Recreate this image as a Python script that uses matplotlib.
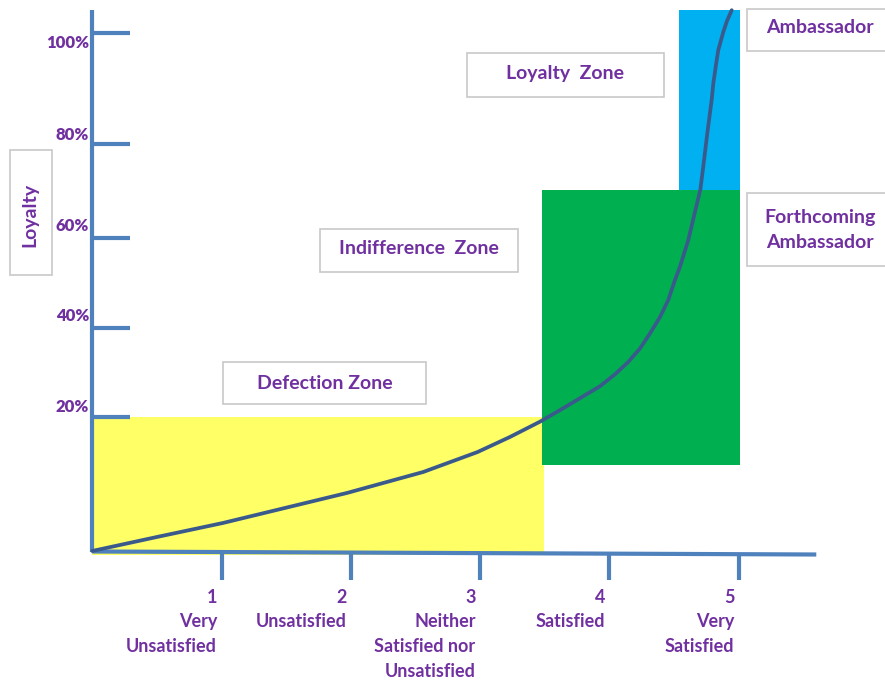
import matplotlib
matplotlib.use("Agg")
import matplotlib.pyplot as plt
from matplotlib.patches import Rectangle

# ---------------- data ----------------
satisfaction_levels = [1, 2, 3, 4, 5]
satisfaction_labels = ["1\nVery\nUnsatisfied", "2\nUnsatisfied",
                       "3\nNeither\nSatisfied nor\nUnsatisfied",
                       "4\nSatisfied", "5\nVery\nSatisfied"]
loyalty_tick_labels = ["20%", "40%", "60%", "80%", "100%"]
loyalty_label_pos = [27.8, 45.4, 62.7, 80.3, 98.1]
loyalty_tick_marks = [25.9, 43.1, 60.4, 78.6, 100.0]

curve_x = [0.0, 0.50, 1.01, 1.49, 1.97, 2.56, 2.98, 3.23, 3.463, 3.618,
           3.773, 3.927, 4.043, 4.146, 4.237, 4.314, 4.392, 4.456, 4.507,
           4.546, 4.610, 4.665, 4.703, 4.726, 4.757, 4.791, 4.804, 4.824,
           4.842, 4.881, 4.909, 4.946]
curve_y = [0.0, 2.7, 5.4, 8.3, 11.2, 15.25, 19.1, 22.0, 24.96, 27.2,
           29.5, 31.8, 34.1, 36.5, 39.1, 42.0, 45.2, 48.5, 52.3,
           54.9, 60.0, 65.8, 69.7, 74.2, 80.6, 87.1, 90.3, 93.8,
           96.7, 100.2, 102.3, 104.4]

# zones: (x0, x1, y0, y1, colour)
zones = [
    (0.0, 3.494, -0.77, 25.8, "#FFFF66"),
    (3.479, 5.01, 16.6, 69.7, "#00B050"),
    (4.538, 5.01, 69.7, 104.4, "#00B0F0"),
]

# label boxes: (text, x0, x1, y0, y1, text_x, text_y)
boxes = [
    ("Defection Zone", 1.011, 2.581, 28.4, 36.5, 1.796, 32.4),
    ("Indifference  Zone", 1.762, 3.293, 53.9, 62.2, 2.527, 58.3),
    ("Loyalty  Zone", 2.899, 4.422, 87.6, 96.1, 3.66, 92.2),
    ("Ambassador", 5.064, 6.3, 96.5, 104.6, 5.63, 101.0),
    ("Forthcoming\nAmbassador", 5.064, 6.3, 55.0, 69.1, 5.63, 62.0),
]

PURPLE = "#7030A0"
AXIS = "#4F81BD"
CURVE = "#3B5A8C"
plt.rcParams['font.family'] = ['Lato', 'DejaVu Sans']

fig = plt.figure(figsize=(8.85, 6.81), dpi=100)
ax = fig.add_axes([0, 0, 1, 1])
ax.set_xlim(-0.7131, 6.1315)
ax.set_ylim(-25.10, 106.37)
ax.axis('off')

for x0, x1, y0, y1, c in zones:
    ax.add_patch(Rectangle((x0, y0), x1 - x0, y1 - y0, facecolor=c,
                           edgecolor='none', zorder=1))

# axes lines
ax.plot([0, 0], [-0.2, 104.4], color=AXIS, lw=3, solid_capstyle='butt', zorder=3)
ax.plot([0, 5.6], [-0.1, -0.68], color=AXIS, lw=3, solid_capstyle='butt', zorder=3)
for ym in loyalty_tick_marks:
    ax.plot([0, 0.29], [ym, ym], color=AXIS, lw=3, solid_capstyle='butt', zorder=3)
for xm in satisfaction_levels:
    ax.plot([xm, xm], [-0.5, -5.6], color=AXIS, lw=3, solid_capstyle='butt', zorder=3)

# curve
ax.plot(curve_x, curve_y, color=CURVE, lw=2.7, zorder=4,
        solid_joinstyle='round', solid_capstyle='round')

# y labels
for lab, yp in zip(loyalty_tick_labels, loyalty_label_pos):
    ax.text(-0.025, yp, lab, ha='right', va='center', color=PURPLE,
            fontsize=12, fontweight='heavy', zorder=5)

# x labels
for xm, lab in zip(satisfaction_levels, satisfaction_labels):
    ax.text(xm - 0.035, -7.3, lab, ha='right', va='top', color=PURPLE,
            fontsize=13, fontweight='bold', linespacing=1.55, zorder=5)

# Loyalty axis title box
ax.add_patch(Rectangle((-0.636, 53.3), 0.325, 24.1, facecolor='white',
                       edgecolor='#C8C8C8', lw=1.2, zorder=5))
ax.text(-0.48, 64.9, "Loyalty", rotation=90, ha='center', va='center',
        color=PURPLE, fontsize=14, fontweight='bold', zorder=6)

for txt, x0, x1, y0, y1, tx, ty in boxes:
    ax.add_patch(Rectangle((x0, y0), x1 - x0, y1 - y0, facecolor='white',
                           edgecolor='#C8C8C8', lw=1.2, zorder=5))
    ax.text(tx, ty, txt, ha='center', va='center', color=PURPLE,
            fontsize=14, fontweight='bold', linespacing=1.55, zorder=6)

fig.savefig("out.png", dpi=100)
